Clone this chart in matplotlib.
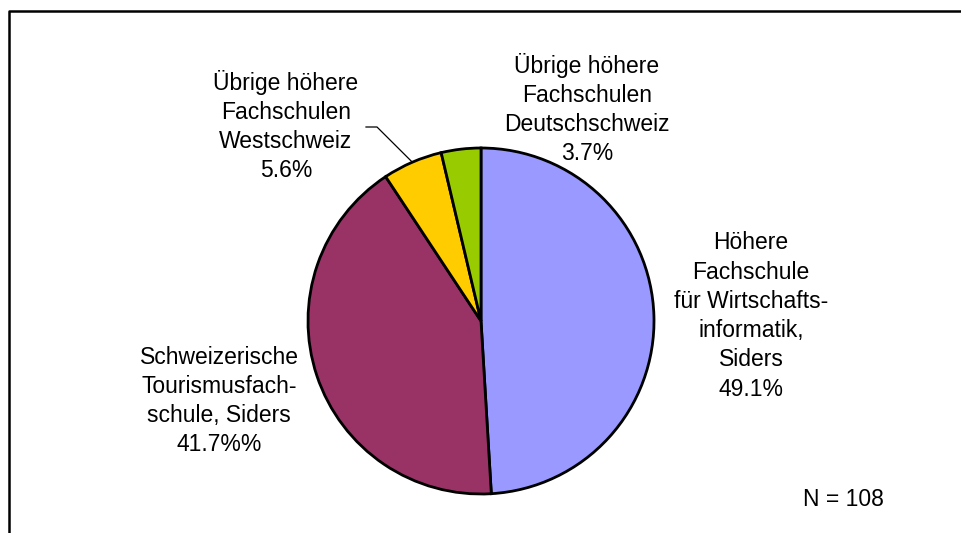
import numpy as np
import matplotlib.pyplot as plt
from matplotlib.lines import Line2D

plt.rcParams['font.family'] = ['Liberation Sans', 'DejaVu Sans']

# data
labels = ['Höhere\nFachschule\nfür Wirtschafts-\ninformatik,\nSiders\n49.1%',
          'Schweizerische\nTourismusfach-\nschule, Siders\n41.7%%',
          'Übrige höhere\nFachschulen\nWestschweiz\n5.6%',
          'Übrige höhere\nFachschulen\nDeutschschweiz\n3.7%']
shares = [49.1, 41.7, 5.6, 3.7]
colors = ['#9999FF', '#993366', '#FFCC00', '#99CC00']
n_total = 108

W, H = 962, 533
fig = plt.figure(figsize=(W / 100, H / 100), dpi=100)

# pie centre / radius in pixels
cx, cy, r = 481, 321, 173
ax = fig.add_axes([(cx - r) / W, (H - cy - r) / H, 2 * r / W, 2 * r / H])
wedges, _ = ax.pie(shares, colors=colors, startangle=90, counterclock=False,
                   wedgeprops=dict(edgecolor='black', linewidth=2))
ax.set_xlim(-1, 1)
ax.set_ylim(-1, 1)
ax.set_aspect('equal')
ax.axis('off')
for w in wedges:
    w.set_clip_on(False)

# label positions (pixel centres)
label_pos = [(751, 316), (219, 401), (286, 126), (587, 109)]
for txt, (x, y) in zip(labels, label_pos):
    fig.text(x / W, 1 - y / H, txt, ha='center', va='center',
             fontsize=16.5, linespacing=1.35)

# leader line for the small yellow slice
w = wedges[2]
mid = np.deg2rad((w.theta1 + w.theta2) / 2)
px, py = cx + r * np.cos(mid), cy - r * np.sin(mid)
xs = [366, 377, px]
ys = [127, 127, py]
fig.add_artist(Line2D([x / W for x in xs], [1 - y / H for y in ys],
                      color='black', lw=0.9, transform=fig.transFigure))

fig.text(843 / W, 1 - 500 / H, f'N = {n_total}', ha='center', va='center',
         fontsize=16.5)

# outer frame (top and left only visible)
fig.add_artist(Line2D([9 / W, 9 / W, 1], [0, 1 - 11 / H, 1 - 11 / H],
                      color='black', lw=1.8, transform=fig.transFigure))

fig.savefig('out.png', dpi=100)
